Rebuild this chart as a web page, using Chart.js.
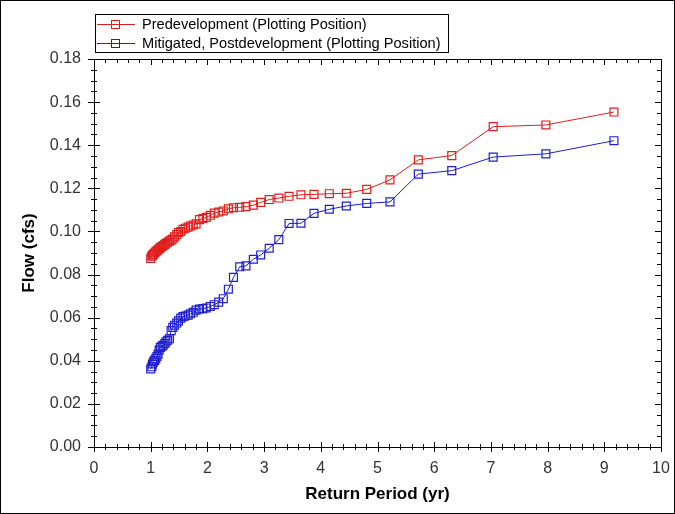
<!DOCTYPE html>
<html>
<head>
<meta charset="utf-8">
<script src="https://cdn.jsdelivr.net/npm/chart.js@4.4.1/dist/chart.umd.min.js"></script>
<style>
  body { margin: 0; background: #fff; }
  #wrap { width: 675px; height: 514px; }
</style>
</head>
<body>
<div id="wrap"><canvas id="flowChart" width="675" height="514"></canvas></div>
<script>
// Return periods (yr), largest first
const returnPeriods = [9.17, 7.97, 7.04, 6.31, 5.72, 5.22, 4.81, 4.45, 4.15, 3.88,
  3.65, 3.44, 3.26, 3.09, 2.94, 2.81, 2.68, 2.57, 2.46, 2.37,
  2.28, 2.20, 2.12, 2.05, 1.98, 1.92, 1.86, 1.80, 1.75, 1.70,
  1.66, 1.61, 1.57, 1.53, 1.49, 1.46, 1.42, 1.39, 1.36, 1.33,
  1.30, 1.27, 1.25, 1.22, 1.20, 1.17, 1.15, 1.13, 1.11, 1.09,
  1.07, 1.05, 1.03, 1.02, 1.00];

// Predevelopment flow (cfs)
const preFlow = [0.1554, 0.1494, 0.1486, 0.1352, 0.1332, 0.1239, 0.1195, 0.1177, 0.1175, 0.1172,
  0.1170, 0.1163, 0.1155, 0.1148, 0.1135, 0.1122, 0.1115, 0.1112, 0.1110, 0.1105,
  0.1095, 0.1090, 0.1085, 0.1075, 0.1065, 0.1060, 0.1055, 0.1035, 0.1030, 0.1025,
  0.1020, 0.1015, 0.1010, 0.1000, 0.0995, 0.0985, 0.0975, 0.0965, 0.0960, 0.0955,
  0.0950, 0.0945, 0.0940, 0.0935, 0.0930, 0.0925, 0.0920, 0.0915, 0.0910, 0.0905,
  0.0900, 0.0895, 0.0890, 0.0885, 0.0875];

// Mitigated postdevelopment flow (cfs)
const postFlow = [0.1421, 0.1360, 0.1345, 0.1282, 0.1266, 0.1137, 0.1130, 0.1118, 0.1103, 0.1084,
  0.1038, 0.1037, 0.0962, 0.0922, 0.0891, 0.0871, 0.0840, 0.0836, 0.0787, 0.0732,
  0.0688, 0.0672, 0.0660, 0.0652, 0.0645, 0.0642, 0.0640, 0.0635, 0.0625, 0.0618,
  0.0612, 0.0608, 0.0605, 0.0598, 0.0585, 0.0575, 0.0565, 0.0555, 0.0540, 0.0502,
  0.0495, 0.0488, 0.0480, 0.0472, 0.0468, 0.0462, 0.0450, 0.0430, 0.0420, 0.0410,
  0.0402, 0.0395, 0.0385, 0.0372, 0.0362];

const seriesLabels = ["Predevelopment (Plotting Position)", "Mitigated, Postdevelopment (Plotting Position)"];
const seriesColors = ["#e01e1e", "#1e1ed2"];

const xTicks = [0, 1, 2, 3, 4, 5, 6, 7, 8, 9, 10];
const yTicks = [0, 0.02, 0.04, 0.06, 0.08, 0.10, 0.12, 0.14, 0.16, 0.18];

const FONT = "'Liberation Sans', Arial, sans-serif";

function toPoints(xs, ys) {
  return xs.map((x, i) => ({ x: x, y: ys[i] }));
}

// frame, tick marks, axis titles and the boxed legend
const decorations = {
  id: "decorations",
  afterDraw(chart) {
    const ctx = chart.ctx;
    const a = chart.chartArea;
    const xs = chart.scales.x;
    const ys = chart.scales.y;
    ctx.save();
    ctx.strokeStyle = "#000";
    ctx.lineWidth = 1;

    // outer border of the picture
    ctx.strokeRect(0.5, 0.5, chart.width - 1, chart.height - 1);

    // plot frame
    ctx.strokeRect(Math.round(a.left) + 0.5, Math.round(a.top) + 0.5,
      Math.round(a.right - a.left), Math.round(a.bottom - a.top));

    ctx.beginPath();
    // x ticks: major every 1, minor every 0.2
    for (let k = 0; k <= 50; k++) {
      const v = k * 0.2;
      const px = Math.round(xs.getPixelForValue(v)) + 0.5;
      const major = k % 5 === 0;
      const out = major ? 5 : 3;
      ctx.moveTo(px, a.bottom - out);
      ctx.lineTo(px, a.bottom + out);
      const inn = major ? 6 : 4;
      ctx.moveTo(px, a.top);
      ctx.lineTo(px, a.top + inn);
    }
    // y ticks: major every 0.02, minor every 0.005
    for (let k = 0; k <= 36; k++) {
      const v = k * 0.005;
      const py = Math.round(ys.getPixelForValue(v)) + 0.5;
      const major = k % 4 === 0;
      const out = major ? 6 : 3;
      ctx.moveTo(a.left - out, py);
      ctx.lineTo(a.left + out, py);
      const inn = major ? 6 : 4;
      ctx.moveTo(a.right, py);
      ctx.lineTo(a.right - inn, py);
    }
    ctx.stroke();

    // axis titles
    ctx.fillStyle = "#000";
    ctx.font = "bold 17px " + FONT;
    ctx.textAlign = "center";
    ctx.textBaseline = "middle";
    ctx.fillText("Return Period (yr)", (a.left + a.right) / 2, 494);
    ctx.save();
    ctx.translate(29, (a.top + a.bottom) / 2);
    ctx.rotate(-Math.PI / 2);
    ctx.fillText("Flow (cfs)", 0, 0);
    ctx.restore();

    // legend box
    const lx = 95, ly = 14, lw = 353, lh = 38;
    ctx.strokeRect(lx + 0.5, ly + 0.5, lw, lh);
    ctx.font = "14.6px " + FONT;
    ctx.textAlign = "left";
    chart.data.datasets.forEach((ds, i) => {
      const cy = ly + 10 + i * 19;
      ctx.strokeStyle = ds.borderColor;
      ctx.lineWidth = 1;
      ctx.beginPath();
      ctx.moveTo(lx + 2, cy + 0.5);
      ctx.lineTo(lx + 40, cy + 0.5);
      ctx.stroke();
      ctx.strokeRect(lx + 16.5, cy - 3.5, 8, 8);
      ctx.fillStyle = "#000";
      ctx.fillText(ds.label, lx + 47, cy + 1);
    });
    ctx.restore();
  }
};

const ctx = document.getElementById("flowChart").getContext("2d");
const flowChart = new Chart(ctx, {
  type: "scatter",
  data: {
    datasets: [
      {
        label: seriesLabels[0],
        data: toPoints(returnPeriods, preFlow),
        showLine: true,
        borderColor: seriesColors[0],
        backgroundColor: "rgba(0,0,0,0)",
        borderWidth: 1,
        pointStyle: "rect",
        pointRadius: 5.6,
        pointBorderWidth: 1.2,
        pointBorderColor: seriesColors[0],
        pointBackgroundColor: "rgba(0,0,0,0)",
      },
      {
        label: seriesLabels[1],
        data: toPoints(returnPeriods, postFlow),
        showLine: true,
        borderColor: seriesColors[1],
        backgroundColor: "rgba(0,0,0,0)",
        borderWidth: 1,
        pointStyle: "rect",
        pointRadius: 5.6,
        pointBorderWidth: 1.2,
        pointBorderColor: seriesColors[1],
        pointBackgroundColor: "rgba(0,0,0,0)",
      },
    ],
  },
  options: {
    responsive: false,
    animation: false,
    layout: { padding: { left: 0, top: 59, right: 14, bottom: 0 } },
    plugins: {
      legend: { display: false },
      tooltip: { enabled: false },
    },
    scales: {
      x: {
        type: "linear",
        min: 0,
        max: 10,
        grid: { display: false, drawTicks: false },
        border: { display: false },
        afterBuildTicks: (scale) => { scale.ticks = xTicks.map((v) => ({ value: v })); },
        afterFit: (scale) => {
          scale.height = 67;
          scale.paddingLeft = 0;
          scale.paddingRight = 0;
        },
        ticks: {
          padding: 12,
          color: "#333",
          font: { family: FONT, size: 16 },
          maxRotation: 0,
          callback: (v) => String(v),
        },
      },
      y: {
        type: "linear",
        min: 0,
        max: 0.18,
        grid: { display: false, drawTicks: false },
        border: { display: false },
        afterBuildTicks: (scale) => { scale.ticks = yTicks.map((v) => ({ value: v })); },
        afterFit: (scale) => {
          scale.width = 94;
          scale.paddingTop = 0;
          scale.paddingBottom = 0;
        },
        ticks: {
          padding: 13,
          color: "#333",
          font: { family: FONT, size: 16 },
          callback: (v) => Number(v).toFixed(2),
        },
      },
    },
  },
  plugins: [decorations],
});
</script>
</body>
</html>
